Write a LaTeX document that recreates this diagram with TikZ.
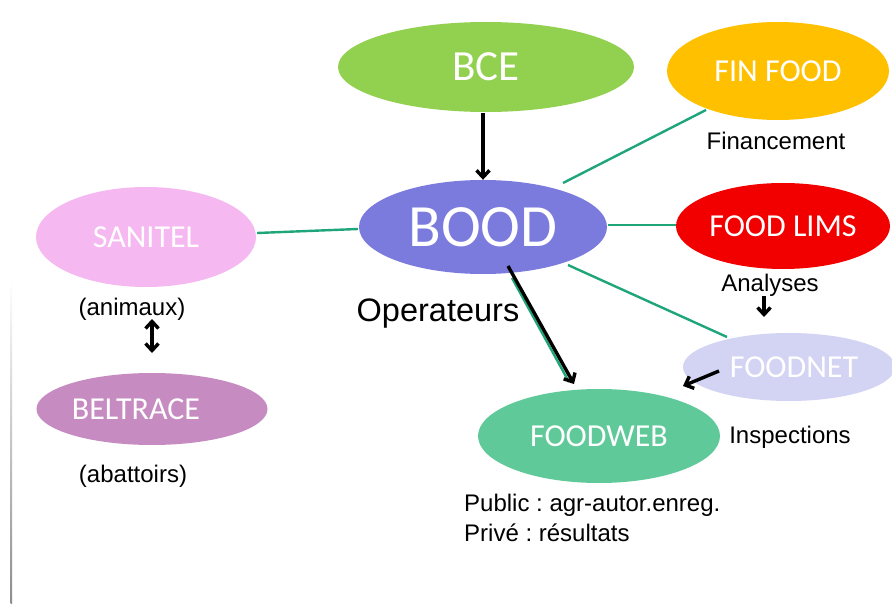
\documentclass[tikz,border=0pt]{standalone}
\usepackage{fontspec}
\setmainfont{Liberation Sans}
\newfontfamily\calib{Carlito}
\usetikzlibrary{shapes.geometric,arrows.meta}
\definecolor{cbce}{HTML}{92D050}
\definecolor{cfin}{HTML}{FFC000}
\definecolor{cbood}{HTML}{7B7BDE}
\definecolor{clims}{HTML}{F20000}
\definecolor{csan}{HTML}{F5B8F0}
\definecolor{cbel}{HTML}{C68BC0}
\definecolor{cnet}{HTML}{D3D3F3}
\definecolor{cweb}{HTML}{5FC99A}
\definecolor{cline}{HTML}{1FA57A}
\frenchspacing
\tikzset{
  ell/.style={ellipse, draw=none, inner sep=0pt, text=white, font=\calib},
  link/.style={cline, line width=2.4pt},
  arr/.style={black, line width=3.4pt, -{Straight Barb[length=7pt,width=13pt,line width=3.4pt]}},
  lab/.style={inner sep=0pt, text=black}
}
\begin{document}
\begin{tikzpicture}[x=1pt,y=-1pt]
\useasboundingbox (0,0) rectangle (892,604);
\fill[white] (0,0) rectangle (892,604);
\shade[top color=white,bottom color=gray!90] (10.5,280) rectangle (12,604);
% ellipses
\node[ell, fill=cbce, minimum width=296pt, minimum height=90pt, font=\calib\fontsize{43}{46}\selectfont] (bce) at (486,67) {BCE};
\node[ell, fill=cfin, minimum width=222pt, minimum height=98pt, font=\calib\fontsize{32}{34}\selectfont] (fin) at (778,71) {FIN FOOD};
\node[ell, fill=cbood, minimum width=248pt, minimum height=94pt, font=\calib\fontsize{60}{64}\selectfont] (bood) at (483,227) {BOOD};
\node[ell, fill=clims, minimum width=214pt, minimum height=86pt, font=\calib\fontsize{32}{34}\selectfont] (lims) at (783,226) {FOOD LIMS};
\node[ell, fill=csan, minimum width=220pt, minimum height=100pt, font=\calib\fontsize{32}{34}\selectfont] (san) at (146,237) {SANITEL};
\node[ell, fill=cbel, minimum width=231pt, minimum height=72pt] (bel) at (152,409) {};
\node[text=white, font=\calib\fontsize{32}{34}\selectfont, inner sep=0pt] (beltxt) at (136,409) {BELTRACE};
\node[ell, fill=cnet, minimum width=212pt, minimum height=68pt] (net) at (789,367) {};
\node[text=white, font=\calib\fontsize{32}{34}\selectfont, inner sep=0pt] (nettxt) at (794,367) {FOODNET};
\node[ell, fill=cweb, minimum width=242pt, minimum height=94pt, font=\calib\fontsize{32}{34}\selectfont] (web) at (599,436) {FOODWEB};
% labels
\node[lab, font=\fontsize{24}{26}\selectfont] (financ) at (776,141) {Financement};
\node[lab, font=\fontsize{24}{26}\selectfont] (analy) at (770,285) {Analyses};
\node[lab, font=\fontsize{24}{26}\selectfont] (insp) at (790,437) {Inspections};
\node[lab, font=\fontsize{32.5}{35}\selectfont] (oper) at (438,314) {Operateurs};
\node[lab, font=\fontsize{24}{26}\selectfont] (anim) at (132,309) {(animaux)};
\node[lab, font=\fontsize{24}{26}\selectfont] (abat) at (133,476) {(abattoirs)};
\node[lab, font=\fontsize{24}{26}\selectfont, anchor=west] (pub) at (464,505) {Public : agr-autor.enreg.};
\node[lab, font=\fontsize{24}{26}\selectfont, anchor=west] (priv) at (464,533) {Privé : résultats};
% connector lines
\draw[link] (san.east |- 0,233) ++(1,0) coordinate (s1) -- (358,229) coordinate (s2);
\coordinate (f1) at (563,183); \coordinate (f2) at (706,110);
\draw[link] (f1) -- (f2);
\draw[link] (bood.east) ++(1,-2) coordinate (l1) -- (lims.west |- l1);
\coordinate (n1) at (568,265); \coordinate (n2) at (727,337);
\draw[link] (n1) -- (n2);
\coordinate (w1) at (512,278); \coordinate (w2) at (569,382);
\draw[link] (w1) -- (w2);
% arrows
\draw[arr] (bce.south) ++(-3,1) coordinate (b1) -- (bood.north -| b1);
\draw[arr] (508,266) coordinate (a1) -- (574,384) coordinate (a2);
\draw[black, line width=3.4pt, {Straight Barb[length=7pt,width=13pt,line width=3.4pt]}-{Straight Barb[length=7pt,width=13pt,line width=3.4pt]}] (152,319) coordinate (d1) -- (152,353) coordinate (d2);
\draw[arr] (764,296) coordinate (an1) -- (764,317) coordinate (an2);
\draw[arr] (719,371) coordinate (fn1) -- (683,386) coordinate (fn2);
\end{tikzpicture}
\end{document}
